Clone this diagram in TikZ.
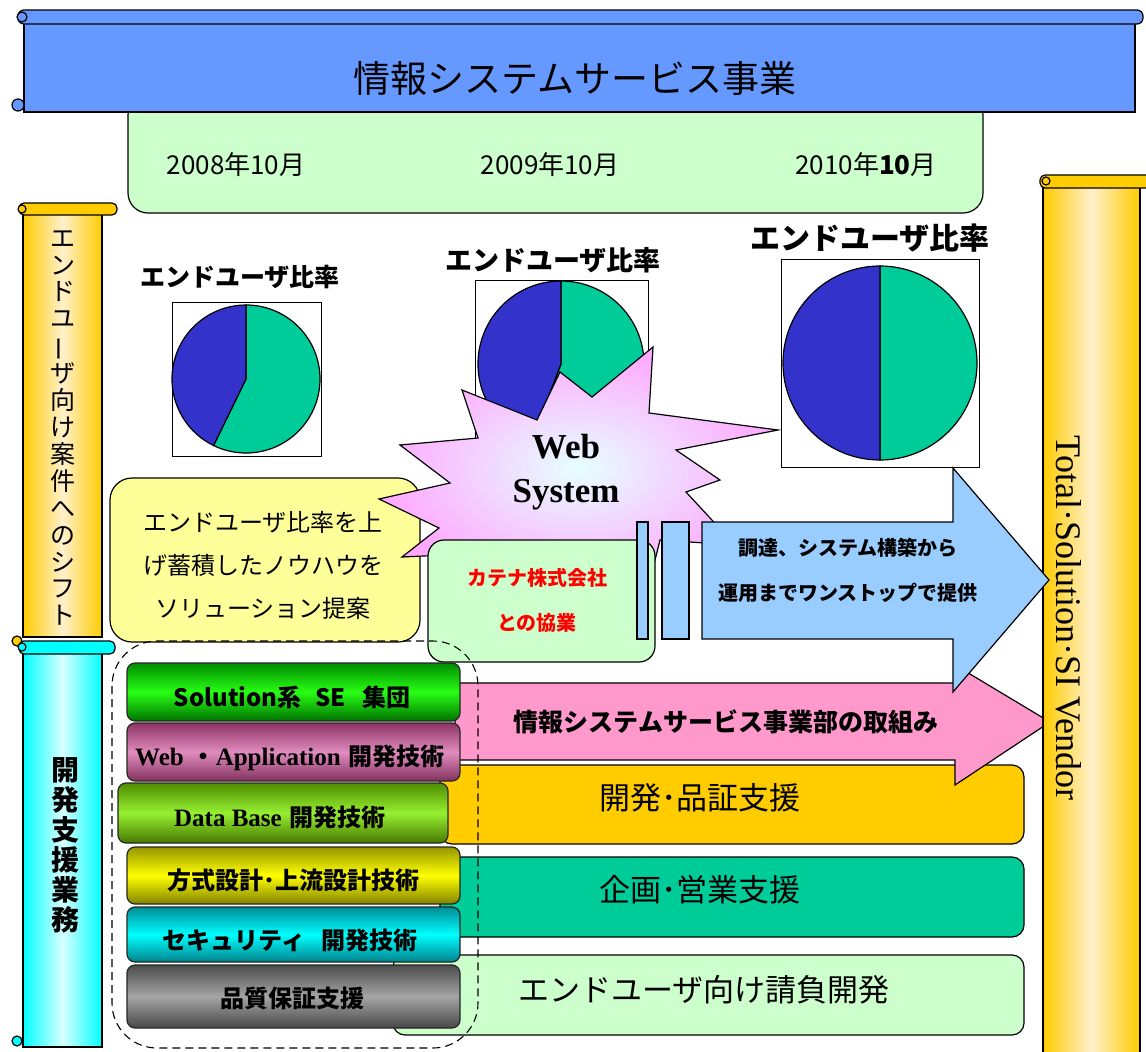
\documentclass[tikz,border=0pt]{standalone}
\usepackage{fontspec}
\newfontfamily\jp{Noto Sans CJK JP}
\newfontfamily\srf{Liberation Serif}
\definecolor{scrollblue}{HTML}{6699FF}
\definecolor{palegreen}{HTML}{CCFFCC}
\definecolor{orng}{HTML}{FFCC00}
\definecolor{orngpale}{HTML}{FFF0CC}
\definecolor{cyanS}{HTML}{00FFFF}
\definecolor{cyanpale}{HTML}{D8FFFF}
\definecolor{pieblue}{HTML}{3333CC}
\definecolor{piegreen}{HTML}{00CC99}
\definecolor{calloutY}{HTML}{FFFF99}
\definecolor{lblue}{HTML}{99CCFF}
\definecolor{pinkarrow}{HTML}{FF99CC}
\definecolor{tealbar}{HTML}{00CC99}
\definecolor{starpink}{HTML}{FFA8FF}
\definecolor{starcyan}{HTML}{E6FFFF}
\begin{document}
\begin{tikzpicture}[x=1pt,y=-1pt,
  edge/.style={draw=black, line width=1.2pt},
  thinedge/.style={draw=black, line width=0.9pt},
  stackbar/.style={draw=black!85, line width=1.2pt, rounded corners=8},
  bartext/.style={font=\fontsize{24}{24}\selectfont\jp\bfseries, inner sep=0pt},
  pietitle/.style={font=\fontsize{#1}{#1}\selectfont\jp\bfseries, inner sep=0pt},
  datetext/.style={font=\fontsize{26}{26}\selectfont\jp, inner sep=0pt},
  bandtext/.style={font=\fontsize{31}{31}\selectfont\jp, inner sep=0pt}]
\useasboundingbox (0,0) rectangle (1146,1052);
\fill[white] (0,0) rectangle (1146,1052);

% dates panel
\draw[edge, fill=palegreen, rounded corners=20] (128,95) rectangle (983,213);
% top blue scroll
\draw[edge, fill=scrollblue] (24,17) rectangle (1135,112);
\draw[edge, fill=scrollblue, rounded corners=6] (18,10) rectangle (1143,24);
\draw[edge, fill=scrollblue] (22,17) circle[radius=5];
\draw[edge, fill=scrollblue] (18,105) circle[radius=6];
\node[font=\fontsize{37}{37}\selectfont\jp] (title) at (575,78) {情報システムサービス事業};

\node[datetext] (d1) at (236,165) {2008年10月};
\node[datetext] (d2) at (550,165) {2009年10月};
\node[datetext] (d3) at (866,165) {2010年{\bfseries 10}月};

% left orange scroll
\path[edge, left color=orng, right color=orng, middle color=orngpale] (23,209) rectangle (102,637);
\draw[edge, fill=orng, rounded corners=5] (19,203) rectangle (117,215);
\draw[edge, fill=orng] (22,209) circle[radius=4];
\draw[edge, fill=orng] (17,641) circle[radius=5];
\node[font=\fontsize{25}{26.9}\selectfont\jp, align=center, inner sep=0pt] (shift) at (63,428)
  {エ\\ン\\ド\\ユ\\\rotatebox[origin=c]{90}{ー}\\ザ\\向\\け\\案\\件\\へ\\の\\シ\\フ\\ト};

% cyan scroll
\path[edge, left color=cyanS, right color=cyanS, middle color=cyanpale] (23,647) rectangle (102,1047);
\draw[edge, fill=cyanS, rounded corners=5] (19,641) rectangle (115,654);
\draw[edge, fill=cyanS] (22,647) circle[radius=4];
\draw[edge, fill=cyanS] (17,1041) circle[radius=5];
\node[font=\fontsize{28}{30}\selectfont\jp\bfseries, align=center, inner sep=0pt] (shien) at (65,845)
  {開\\発\\支\\援\\業\\務};

% pie 1
\draw[thinedge, fill=white] (172,302) rectangle (321,456);
\draw[edge, fill=piegreen] (246,379) -- ++(-90:74) arc[start angle=-90, end angle=116, radius=74] -- cycle;
\draw[edge, fill=pieblue] (246,379) -- ++(116:74) arc[start angle=116, end angle=270, radius=74] -- cycle;
\node[pietitle=25] (t1) at (240,277) {エンドユーザ比率};
% pie 2
\draw[thinedge, fill=white] (475,280) rectangle (648,447);
\draw[edge, fill=piegreen] (561,364) -- ++(-90:83) arc[start angle=-90, end angle=111, radius=83] -- cycle;
\draw[edge, fill=pieblue] (561,364) -- ++(111:83) arc[start angle=111, end angle=270, radius=83] -- cycle;
\node[pietitle=27] (t2) at (553,260) {エンドユーザ比率};
% pie 3
\draw[thinedge, fill=white] (781,259) rectangle (979,467);
\draw[edge, fill=piegreen] (880,363) -- ++(-90:97) arc[start angle=-90, end angle=90, radius=97] -- cycle;
\draw[edge, fill=pieblue] (880,363) -- ++(90:97) arc[start angle=90, end angle=270, radius=97] -- cycle;
\node[pietitle=30] (t3) at (870,238) {エンドユーザ比率};

% callout
\draw[edge, fill=calloutY, rounded corners=22] (110,478) rectangle (420,642);
\node[font=\fontsize{24}{43}\selectfont\jp, align=center, inner sep=0pt] (call) at (263,565)
  {エンドユーザ比率を上\\げ蓄積したノウハウを\\ソリューション提案};

% lower bands
\draw[edge, fill=palegreen, rounded corners=12] (393,955) rectangle (1024,1035);
\draw[edge, fill=tealbar, rounded corners=12] (440,857) rectangle (1024,937);
\draw[edge, fill=orng, rounded corners=12] (440,765) rectangle (1024,844);
\node[bandtext] (eu) at (704,990) {エンドユーザ向け請負開発};
\node[bandtext] (kikaku) at (700,890) {企画･営業支援};
\node[bandtext] (hinsho) at (700,798) {開発･品証支援};

% pink arrow
\draw[edge, fill=pinkarrow] (455,683) -- (955,683) -- (955,665) -- (1050,722) -- (955,785) -- (955,760) -- (455,760) -- cycle;
\node[font=\fontsize{25}{25}\selectfont\jp\bfseries, inner sep=0pt] (torikumi) at (726,722) {情報システムサービス事業部の取組み};

% starburst
\draw[edge, shading=radial, inner color=starcyan, outer color=starpink]
  (462,390) -- (537,420) -- (560,372) -- (592,397) -- (653,347) -- (649,413)
  -- (778,430) -- (676,450) -- (720,480) -- (686,492) -- (735,545) -- (660,540)
  -- (650,580) -- (600,548) -- (560,590) -- (510,552) -- (402,557) -- (439,528)
  -- (379,499) -- (450,483) -- (400,445) -- (478,438) -- cycle;
\node[font=\fontsize{35}{44}\selectfont\srf\bfseries, align=center, inner sep=0pt] (web) at (566,472) {Web\\System};

% Katena box
\draw[edge, fill=palegreen, rounded corners=16] (428,540) rectangle (655,662);
\node[font=\fontsize{20}{45}\selectfont\jp\bfseries, text=red, align=center, inner sep=0pt] (katena) at (537,600)
  {カテナ株式会社\\との協業};

% light blue bars
\draw[edge, fill=lblue] (637,522) rectangle (648,639);
\draw[edge, fill=lblue] (662,522) rectangle (689,639);

% right scroll
\path[edge, left color=orng, right color=orng, middle color=orngpale] (1043,181) rectangle (1140,1060);
\draw[edge, fill=orng, rounded corners=5] (1040,175) rectangle (1152,188);
\draw[edge, fill=orng] (1046,181) circle[radius=4];
\node[font=\fontsize{36}{36}\selectfont\srf, rotate=-90, inner sep=0pt] (tsv) at (1069,618) {Total·Solution·SI Vendor};

% blue arrow
\draw[edge, fill=lblue] (702,522) -- (953,522) -- (953,468) -- (1049,580) -- (953,692) -- (953,639) -- (702,639) -- cycle;
\node[font=\fontsize{20}{45}\selectfont\jp\bfseries, align=center, inner sep=0pt] (onestop) at (848,570)
  {調達、システム構築から\\運用までワンストップで提供};

% stacked bars
\path[stackbar, top color=green!55!black, bottom color=green!45!black, middle color={rgb,255:red,40;green,255;blue,20}] (127,663) rectangle (460,721);
\path[stackbar, top color={rgb,255:red,140;green,50;blue,100}, bottom color={rgb,255:red,130;green,50;blue,95}, middle color={rgb,255:red,225;green,140;blue,190}] (127,723) rectangle (460,781);
\path[stackbar, top color={rgb,255:red,80;green,140;blue,0}, bottom color={rgb,255:red,70;green,120;blue,0}, middle color={rgb,255:red,150;green,240;blue,50}] (118,783) rectangle (448,843);
\path[stackbar, top color={rgb,255:red,150;green,150;blue,0}, bottom color={rgb,255:red,130;green,130;blue,0}, middle color={rgb,255:red,255;green,255;blue,0}] (127,847) rectangle (460,904);
\path[stackbar, top color={rgb,255:red,0;green,140;blue,150}, bottom color={rgb,255:red,0;green,130;blue,140}, middle color={rgb,255:red,0;green,255;blue,255}] (127,907) rectangle (460,962);
\path[stackbar, top color=black!70, bottom color=black!72, middle color=black!35] (127,965) rectangle (460,1028);

\node[bartext] (sol) at (292,697) {Solution系\hspace{14pt}SE\hspace{16pt}集団};
\node[bartext] (webapp) at (290,758) {{\srf\fontsize{25}{25}\selectfont Web}\hspace{8pt}・{\srf\fontsize{25}{25}\selectfont Application}\hspace{8pt}開発技術};
\node[bartext] (db) at (280,817) {{\srf\fontsize{25}{25}\selectfont Data Base}\hspace{8pt}開発技術};
\node[bartext] (hoshiki) at (293,880) {方式設計･上流設計技術};
\node[bartext] (sec) at (290,940) {セキュリティ\hspace{16pt}開発技術};
\node[bartext] (qa) at (292,998) {品質保証支援};

% dashed grouping
\draw[dashed, dash pattern=on 8pt off 5pt, line width=1.1pt, rounded corners=45] (112,641) rectangle (478,1048);
\end{tikzpicture}
\end{document}
